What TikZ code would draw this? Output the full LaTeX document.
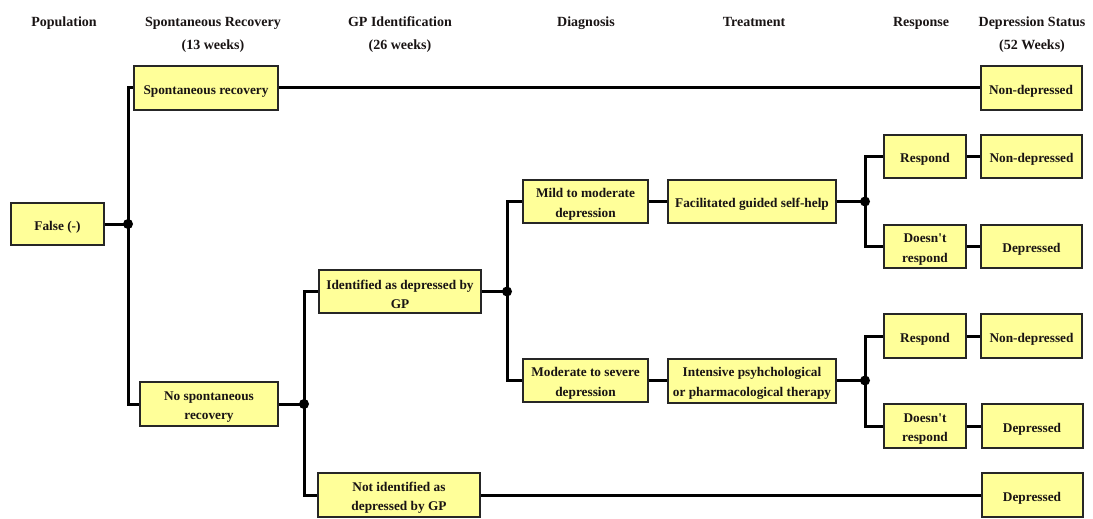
\documentclass[tikz,border=0pt]{standalone}
\usepackage{fontspec}
\setmainfont{Liberation Serif}[Ligatures=TeXOff]
\definecolor{boxfill}{RGB}{255,255,153}
\definecolor{ink}{RGB}{25,20,20}
% invisible strut that lowers box text slightly within its frame
\newcommand\lift{\rule{0pt}{15pt}}
\begin{document}
\begin{tikzpicture}[x=1pt,y=-1pt,
  box/.style={draw=black!85, line width=2pt, fill=boxfill, text=ink,
    font=\bfseries\fontsize{13.3}{19.2}\selectfont, align=center, inner sep=0pt},
  head/.style={text=ink, font=\bfseries\fontsize{14}{23}\selectfont, anchor=base},
  link/.style={line width=3pt, draw=black},
  dot/.style={fill=black}]
\useasboundingbox (0,0) rectangle (1093,519);

% column headings
\node[head] (hpop)   at (64,27)   {Population};
\node[head] (hspon)  at (213,27)  {Spontaneous Recovery};
\node[head] (hsponw) at (213,50)  {(13 weeks)};
\node[head] (hgp)    at (400,27)  {GP Identification};
\node[head] (hgpw)   at (400,50)  {(26 weeks)};
\node[head] (hdiag)  at (586,27)  {Diagnosis};
\node[head] (htr)    at (754,27)  {Treatment};
\node[head] (hresp)  at (921,27)  {Response};
\node[head] (hstat)  at (1032,27) {Depression Status};
\node[head] (hstatw) at (1032,50) {(52 Weeks)};

% decision boxes
\node[box, minimum width=93pt,  minimum height=42pt] (false) at (57.5,224)  {\lift False (-)};
\node[box, minimum width=144pt, minimum height=44pt] (sr)    at (206,88)    {\lift Spontaneous recovery};
\node[box, minimum width=138pt, minimum height=44pt] (nsr)   at (209,404)   {\lift No spontaneous\\recovery};
\node[box, minimum width=162pt, minimum height=43pt] (idgp)  at (400,291.5) {\lift Identified as depressed by\\GP};
\node[box, minimum width=162pt, minimum height=44pt] (notid) at (399,495)   {\lift Not identified as\\depressed by GP};
\node[box, minimum width=125pt, minimum height=43pt] (mild)  at (585.5,201.5) {\lift Mild to moderate\\depression};
\node[box, minimum width=125pt, minimum height=43pt] (sev)   at (585.5,380.5) {\lift Moderate to severe\\depression};
\node[box, minimum width=168pt, minimum height=43pt] (fgsh)  at (752,201.5) {\lift Facilitated guided self-help};
\node[box, minimum width=168pt, minimum height=44pt] (ipt)   at (752,380.5) {\lift Intensive psyhchological\\or pharmacological therapy};
\node[box, minimum width=82pt,  minimum height=43pt] (r1)    at (925,156.5) {\lift Respond};
\node[box, minimum width=82pt,  minimum height=43pt] (dr1)   at (925,246.5) {\lift Doesn't\\respond};
\node[box, minimum width=82pt,  minimum height=44pt] (r2)    at (925,336)   {\lift Respond};
\node[box, minimum width=82pt,  minimum height=44pt] (dr2)   at (925,426)   {\lift Doesn't\\respond};

% outcomes at 52 weeks
\node[box, minimum width=101pt, minimum height=44pt] (nd0) at (1031,88)      {\lift Non-depressed};
\node[box, minimum width=101pt, minimum height=43pt] (nd1) at (1031.5,156.5) {\lift Non-depressed};
\node[box, minimum width=101pt, minimum height=43pt] (d1)  at (1031.5,246.5) {\lift Depressed};
\node[box, minimum width=101pt, minimum height=44pt] (nd2) at (1031.5,336)   {\lift Non-depressed};
\node[box, minimum width=101pt, minimum height=44pt] (d2)  at (1032,426)     {\lift Depressed};
\node[box, minimum width=101pt, minimum height=44pt] (d3)  at (1032,495)     {\lift Depressed};

% branch points
\coordinate (j1) at (128,224);
\coordinate (j2) at (304,404);
\coordinate (j3) at (507,291.5);
\coordinate (j4) at (865,201.5);
\coordinate (j5) at (865,380.5);

% connectors
\draw[link] (false.east) -- (j1);
\draw[link] (j1) |- (sr.west);
\draw[link] (j1) |- (nsr.west);
\draw[link] (sr.east) -- (nd0.west);
\draw[link] (nsr.east) -- (j2);
\draw[link] (j2) |- (idgp.west);
\draw[link] (j2) |- (notid.west);
\draw[link] (notid.east) -- (d3.west);
\draw[link] (idgp.east) -- (j3);
\draw[link] (j3) |- (mild.west);
\draw[link] (j3) |- (sev.west);
\draw[link] (mild.east) -- (fgsh.west);
\draw[link] (sev.east) -- (ipt.west);
\draw[link] (fgsh.east) -- (j4);
\draw[link] (j4) |- (r1.west);
\draw[link] (j4) |- (dr1.west);
\draw[link] (ipt.east) -- (j5);
\draw[link] (j5) |- (r2.west);
\draw[link] (j5) |- (dr2.west);
\draw[link] (r1.east) -- (nd1.west);
\draw[link] (dr1.east) -- (d1.west);
\draw[link] (r2.east) -- (nd2.west);
\draw[link] (dr2.east) -- (d2.west);

\foreach \j in {j1,j2,j3,j4,j5} \fill[dot] (\j) circle (5pt);
\end{tikzpicture}
\end{document}
